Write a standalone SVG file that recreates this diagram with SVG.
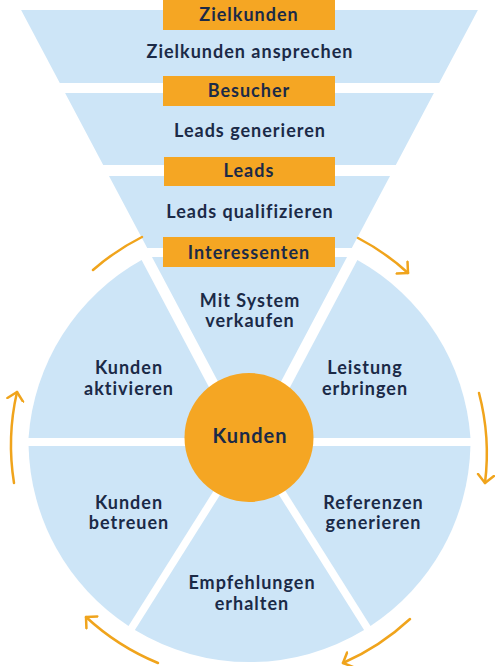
<svg xmlns="http://www.w3.org/2000/svg" width="500" height="666" viewBox="0 0 500 666">
<defs>
<style>
.blue{fill:#CDE5F7}
.tag{fill:#F5A623}
.t{font-family:Lato,"Liberation Sans",sans-serif;font-weight:700;font-size:18px;fill:#1B2A47;text-anchor:middle;letter-spacing:1px}
.big{font-size:20px}
.arr{fill:none;stroke:#F0A41C;stroke-width:2.5;stroke-linecap:round}
</style>
<marker id="ah" markerUnits="userSpaceOnUse" markerWidth="20" markerHeight="20" refX="9" refY="9" orient="auto" viewBox="0 0 20 20">
<path d="M1,1 L9,9 L1,17" fill="none" stroke="#F0A41C" stroke-width="2.5" stroke-linecap="round" stroke-linejoin="round"/>
</marker>
</defs>
<rect width="500" height="666" fill="#FFFFFF"/>

<g id="stage-zielkunden-ansprechen">
<polygon class="blue" points="21.1,10 477.9,10 439.2,83 59.8,83"/>
<text class="t" x="250" y="58">Zielkunden ansprechen</text>
</g>
<g id="stage-leads-generieren">
<polygon class="blue" points="65.1,93 433.9,93 395.8,165 103.2,165"/>
<text class="t" x="250" y="137">Leads generieren</text>
</g>
<g id="stage-leads-qualifizieren">
<polygon class="blue" points="109,176 390,176 351.8,248 147.2,248"/>
<text class="t" x="250" y="218">Leads qualifizieren</text>
</g>

<g id="sector-mit-system-verkaufen">
<polygon class="blue" points="152,257 347,257 249.5,441"/>
<text class="t" x="250" y="306.5">Mit System</text>
<text class="t" x="250" y="326.5">verkaufen</text>
</g>
<g id="sector-leistung-erbringen">
<path class="blue" d="M263.1,438 L357.4,260 A221,221 0 0 1 470.48,438 Z"/>
<text class="t" x="365" y="374">Leistung</text>
<text class="t" x="365" y="395">erbringen</text>
</g>
<g id="sector-referenzen-generieren">
<path class="blue" d="M257.15,446 L370.5,625.9 A221,221 0 0 0 470.44,446 Z"/>
<text class="t" x="373.5" y="508.5">Referenzen</text>
<text class="t" x="373.5" y="529">generieren</text>
</g>
<g id="sector-empfehlungen-erhalten">
<path class="blue" d="M249.5,448.1 L134.9,630 A221,221 0 0 0 364.1,630 Z"/>
<text class="t" x="252" y="589">Empfehlungen</text>
<text class="t" x="252" y="610">erhalten</text>
</g>
<g id="sector-kunden-betreuen">
<path class="blue" d="M241.85,446 L128.5,625.9 A221,221 0 0 1 28.56,446 Z"/>
<text class="t" x="129" y="508.5">Kunden</text>
<text class="t" x="129" y="529">betreuen</text>
</g>
<g id="sector-kunden-aktivieren">
<path class="blue" d="M235.9,438 L141.6,260 A221,221 0 0 0 28.52,438 Z"/>
<text class="t" x="129" y="374">Kunden</text>
<text class="t" x="129" y="395">aktivieren</text>
</g>

<g id="tag-zielkunden">
<rect class="tag" x="163" y="0" width="172" height="30"/>
<text class="t" x="249" y="21">Zielkunden</text>
</g>
<g id="tag-besucher">
<rect class="tag" x="163" y="76" width="172" height="30"/>
<text class="t" x="249" y="97">Besucher</text>
</g>
<g id="tag-leads">
<rect class="tag" x="164" y="157" width="171" height="29"/>
<text class="t" x="249" y="177">Leads</text>
</g>
<g id="tag-interessenten">
<rect class="tag" x="163" y="237" width="172" height="30"/>
<text class="t" x="249" y="258.5">Interessenten</text>
</g>

<g id="center-kunden">
<circle class="tag" cx="249" cy="437.5" r="64.5"/>
<text class="t big" x="250" y="443">Kunden</text>
</g>

<g id="connectors">
<path class="arr" d="M93,270 A231,231 0 0 1 142,237"/>
<path class="arr" d="M358,238 A231,231 0 0 1 408,273" marker-end="url(#ah)"/>
<path class="arr" d="M479,393 A238,238 0 0 1 485,483" marker-end="url(#ah)"/>
<path class="arr" d="M410,619 A240,240 0 0 1 343,663" marker-end="url(#ah)"/>
<path class="arr" d="M158,663 A240,240 0 0 1 86,617" marker-end="url(#ah)"/>
<path class="arr" d="M14,483 A238,238 0 0 1 17,392" marker-end="url(#ah)"/>
</g>
</svg>
